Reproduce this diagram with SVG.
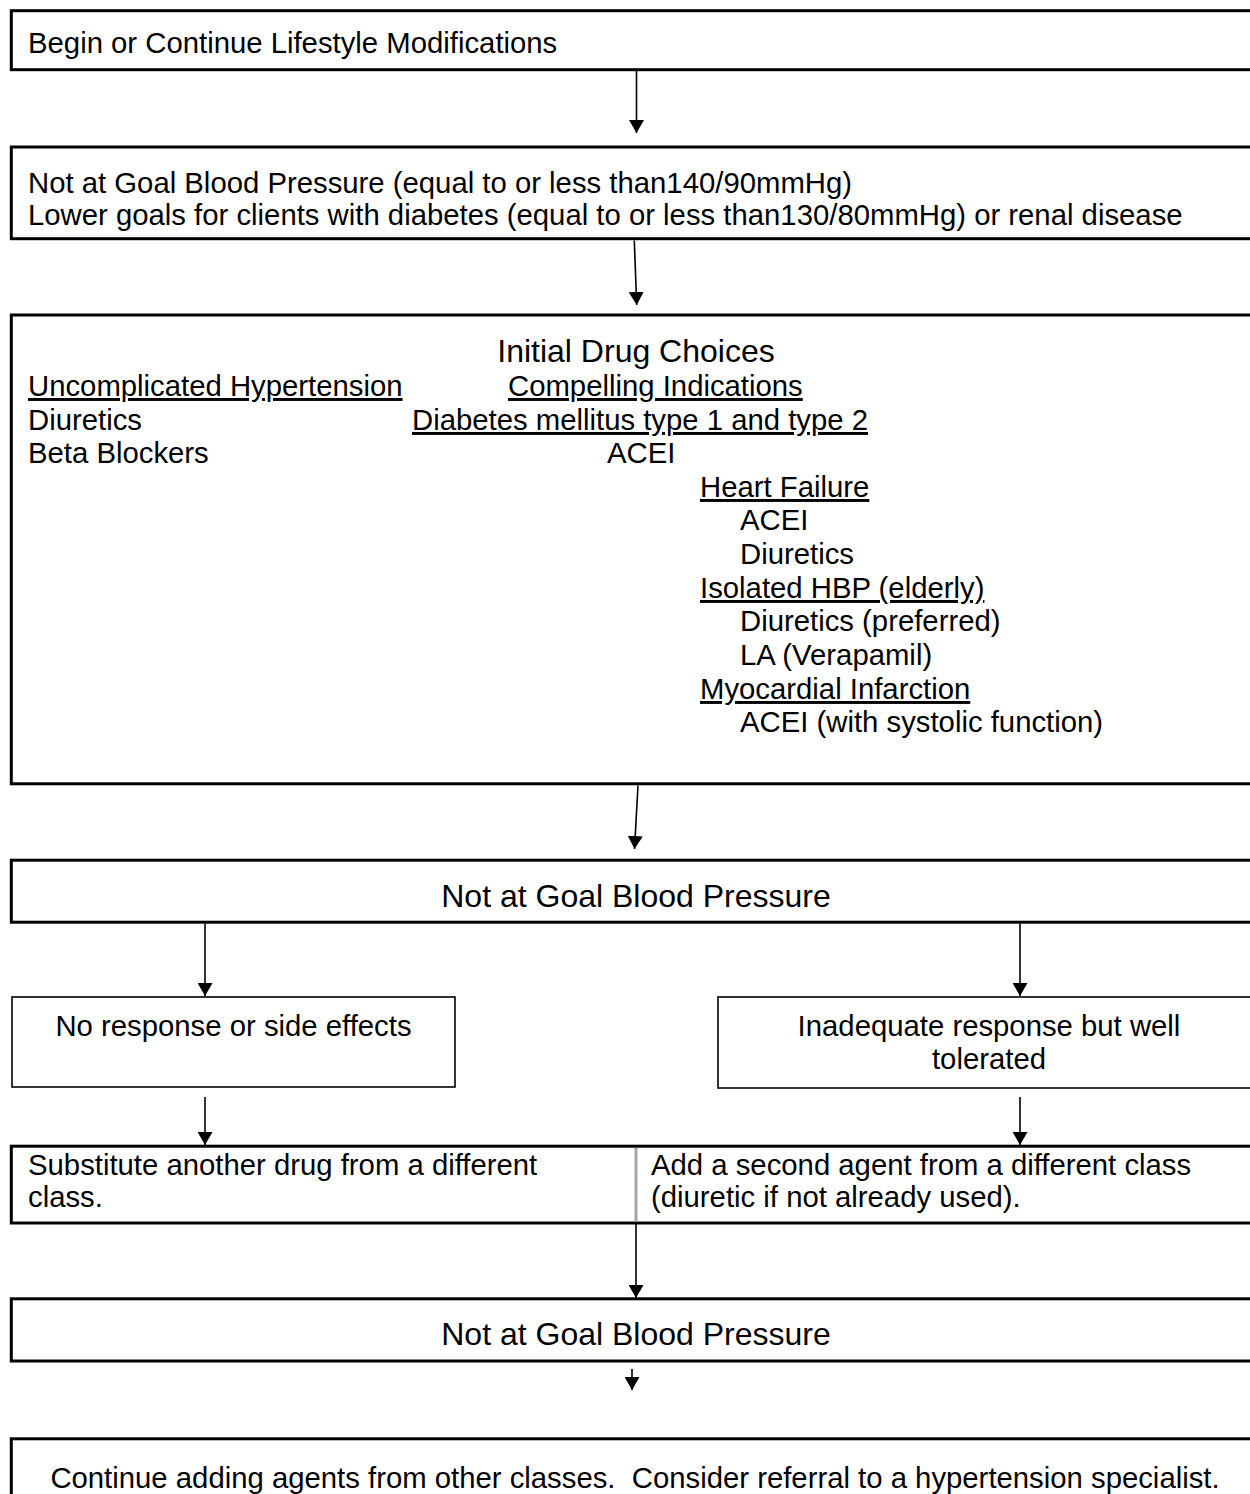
<svg xmlns="http://www.w3.org/2000/svg" width="1250" height="1494" viewBox="0 0 1250 1494">
<defs>
<marker id="ah" viewBox="0 0 13 15" refX="13" refY="7.5" markerWidth="13" markerHeight="15" markerUnits="userSpaceOnUse" orient="auto">
<path d="M0,0 L13,7.5 L0,15 z" fill="#000"/>
</marker>
<style>
text{font-family:"Liberation Sans",Arial,sans-serif;font-size:29.3px;fill:#000}
.big{font-size:32px}
.u{text-decoration:underline;text-decoration-skip-ink:none}
.c{text-anchor:middle}
.pre{white-space:pre}
.box{fill:#fff;stroke:#000;stroke-width:3}
.sbox{fill:#fff;stroke:#000;stroke-width:1.6}
.conn line{stroke:#000;stroke-width:1.6;marker-end:url(#ah)}
</style>
</defs>
<rect width="1250" height="1494" fill="#fff"/>
<g id="n1"><rect class="box" x="11.3" y="10.7" width="1250" height="59"/>
<text x="28" y="53">Begin or Continue Lifestyle Modifications</text></g>
<g id="n2"><rect class="box" x="11.3" y="147" width="1250" height="91.7"/>
<text x="28" y="193">Not at Goal Blood Pressure (equal to or less than140/90mmHg)</text>
<text x="28" y="225">Lower goals for clients with diabetes (equal to or less than130/80mmHg) or renal disease</text></g>
<g id="n3"><rect class="box" x="11.3" y="315" width="1250" height="468.8"/>
<text class="big c" x="636" y="362">Initial Drug Choices</text>
<text class="u" x="28" y="396">Uncomplicated Hypertension</text>
<text class="u" x="508" y="396">Compelling Indications</text>
<text x="28" y="430">Diuretics</text>
<text class="u" x="412" y="430">Diabetes mellitus type 1 and type 2</text>
<text x="28" y="463">Beta Blockers</text>
<text x="607" y="463">ACEI</text>
<text class="u" x="700" y="497">Heart Failure</text>
<text x="740" y="530">ACEI</text>
<text x="740" y="564">Diuretics</text>
<text class="u" x="700" y="598">Isolated HBP (elderly)</text>
<text x="740" y="631">Diuretics (preferred)</text>
<text x="740" y="665">LA (Verapamil)</text>
<text class="u" x="700" y="699">Myocardial Infarction</text>
<text x="740" y="732">ACEI (with systolic function)</text></g>
<g id="n4"><rect class="box" x="11.3" y="860.2" width="1250" height="62"/>
<text class="big c" x="636" y="907">Not at Goal Blood Pressure</text></g>
<g id="n5"><rect class="sbox" x="12" y="997" width="443" height="90"/>
<text class="c" x="233.5" y="1036">No response or side effects</text></g>
<g id="n6"><rect class="sbox" x="718" y="997" width="542" height="91"/>
<text class="c" x="989" y="1036">Inadequate response but well</text>
<text class="c" x="989" y="1069">tolerated</text></g>
<g id="n7"><rect class="box" x="11.3" y="1146.2" width="1250" height="76.8"/>
<line x1="636" y1="1148" x2="636" y2="1221.5" stroke="#a6a6a6" stroke-width="3"/>
<text x="28" y="1175">Substitute another drug from a different</text>
<text x="28" y="1207">class.</text>
<text x="651" y="1175">Add a second agent from a different class</text>
<text x="651" y="1207">(diuretic if not already used).</text></g>
<g id="n8"><rect class="box" x="11.3" y="1298.8" width="1250" height="62.2"/>
<text class="big c" x="636" y="1345">Not at Goal Blood Pressure</text></g>
<g id="n9"><rect class="box" x="11.3" y="1438.8" width="1250" height="80"/>
<text class="c pre" x="635" y="1488">Continue adding agents from other classes.  Consider referral to a hypertension specialist.</text></g>
<g id="connectors" class="conn">
<line x1="636.5" y1="71" x2="636.5" y2="133"/>
<line x1="634.3" y1="240.5" x2="636.7" y2="305"/>
<line x1="638" y1="785.5" x2="634.5" y2="849"/>
<line x1="205" y1="923.5" x2="205" y2="996"/>
<line x1="1020" y1="923.5" x2="1020" y2="996"/>
<line x1="205" y1="1097" x2="205" y2="1145"/>
<line x1="1020" y1="1097" x2="1020" y2="1145"/>
<line x1="636" y1="1224" x2="636" y2="1298"/>
<line x1="632" y1="1369" x2="632" y2="1390"/>
</g>
</svg>
